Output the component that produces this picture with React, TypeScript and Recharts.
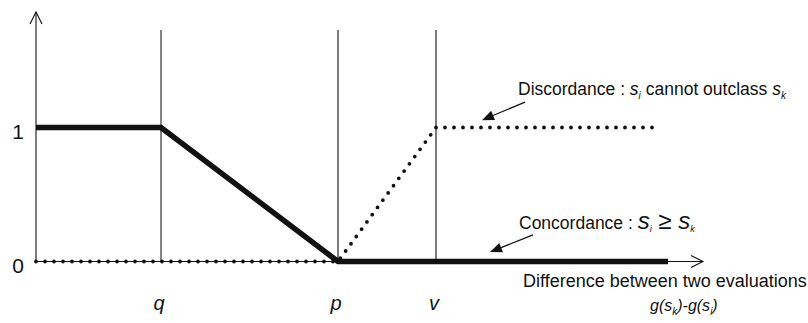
import React from 'react';
import { ComposedChart, Line, XAxis, YAxis, ReferenceLine, Customized } from 'recharts';

// Threshold positions on the difference axis
const thresholdNames = ['q', 'p', 'v'];
const thresholdValues = [1.25, 3.02, 4.0];

// Concordance index (bold line)
const concordanceX = [0, 1.25, 3.02, 6.32];
const concordanceY = [1, 1, 0, 0];

// Discordance index (dotted line)
const discordanceX = [0, 3.02, 4.0, 6.22];
const discordanceY = [0, 0, 1, 1];

// Y axis ticks
const yTickValues = [0, 1];
const yTickLabels = ['0', '1'];

const X_MAX = 6.67;
const Y_MAX = 1.862;
const V_TOP = 1.728;

const concordanceData = concordanceX.map((x, i) => ({ x, c: concordanceY[i] }));
const discordanceData = discordanceX.map((x, i) => ({ x, d: discordanceY[i] }));

const FONT = '"Liberation Sans", Arial, sans-serif';

const OpenArrow = (props: any) => {
  const { x1, y1, x2, y2 } = props;
  const a = Math.atan2(y2 - y1, x2 - x1);
  const L = 12, W = 6;
  const c = Math.cos(a), s = Math.sin(a);
  const bx = x2 - L * c, by = y2 - L * s;
  const px = -s * W, py = c * W;
  return (
    <g>
      <line x1={x1} y1={y1} x2={x2} y2={y2} stroke="#111" strokeWidth={1.1} />
      <polyline points={`${bx + px},${by + py} ${x2},${y2} ${bx - px},${by - py}`} fill="none" stroke="#111" strokeWidth={1.1} />
    </g>
  );
};

const FilledArrow = (props: any) => {
  const { x1, y1, x2, y2 } = props;
  const a = Math.atan2(y2 - y1, x2 - x1);
  const L = 12, W = 5;
  const c = Math.cos(a), s = Math.sin(a);
  const bx = x2 - L * c, by = y2 - L * s;
  const px = -s * W, py = c * W;
  return (
    <g>
      <line x1={x1} y1={y1} x2={bx} y2={by} stroke="#111" strokeWidth={1.3} />
      <polygon points={`${bx + px},${by + py} ${x2},${y2} ${bx - px},${by - py}`} fill="#111" />
    </g>
  );
};

const XTick = (props: any) => {
  const { x, y, payload } = props;
  const idx = thresholdValues.indexOf(payload.value);
  return (
    <text x={x - 2} y={y + 48.5} textAnchor="middle" fontFamily={FONT} fontStyle="italic" fontSize={20} fill="#111">
      {thresholdNames[idx]}
    </text>
  );
};

const YTick = (props: any) => {
  const { x, y, payload } = props;
  const idx = yTickValues.indexOf(payload.value);
  return (
    <text x={x - 18} y={y + 11.5} textAnchor="middle" fontFamily={FONT} fontSize={21} fill="#111">
      {yTickLabels[idx]}
    </text>
  );
};

const Annotations = () => (
  <g fontFamily={FONT} fill="#111">
    <text x={518} y={95} fontSize={17.5}>
      {'Discordance : '}
      <tspan fontStyle="italic">s</tspan>
      <tspan fontStyle="italic" fontSize={10} dy={4}>i</tspan>
      <tspan dy={-4}>{' cannot outclass '}</tspan>
      <tspan fontStyle="italic">s</tspan>
      <tspan fontStyle="italic" fontSize={10} dy={4}>k</tspan>
    </text>
    <text x={519} y={229} fontSize={17.5}>
      {'Concordance : '}
      <tspan fontSize={24} fontStyle="italic">s</tspan>
      <tspan fontSize={9} fontStyle="italic" dy={3}>i</tspan>
      <tspan fontSize={24} dy={-3}>{' ≥ '}</tspan>
      <tspan fontSize={24} fontStyle="italic">s</tspan>
      <tspan fontSize={9} fontStyle="italic" dy={3}>k</tspan>
    </text>
    <text x={523} y={287} fontSize={18}>Difference between two evaluations</text>
    <text x={650} y={311} fontSize={16} fontStyle="italic">
      {'g(s'}
      <tspan fontSize={10} dy={4}>k</tspan>
      <tspan dy={-4}>{')-g(s'}</tspan>
      <tspan fontSize={10} dy={4}>i</tspan>
      <tspan dy={-4}>{')'}</tspan>
    </text>
  </g>
);

export default function App() {
  return (
    <div style={{ position: 'absolute', left: 0, top: 0, background: '#fff' }}>
      <ComposedChart
        width={808}
        height={323}
        margin={{ top: 12, right: 105, bottom: 21.5, left: 0 }}
      >
        <XAxis
          type="number"
          dataKey="x"
          domain={[0, X_MAX]}
          ticks={thresholdValues}
          tick={<XTick />}
          axisLine={false}
          tickLine={false}
          tickSize={0}
          tickMargin={0}
          height={40}
        />
        <YAxis
          type="number"
          domain={[0, Y_MAX]}
          ticks={yTickValues}
          tick={<YTick />}
          axisLine={false}
          tickLine={false}
          tickSize={0}
          tickMargin={0}
          width={36}
        />
        {thresholdValues.map((v, i) => (
          <ReferenceLine
            key={thresholdNames[i]}
            segment={[{ x: v, y: 0 }, { x: v, y: V_TOP }]}
            stroke={i === 0 ? '#666' : '#222'}
            strokeWidth={i === 0 ? 1.6 : 1.2}
            ifOverflow="visible"
          />
        ))}
        <ReferenceLine segment={[{ x: 0, y: 0 }, { x: X_MAX, y: 0 }]} shape={<OpenArrow />} ifOverflow="visible" />
        <ReferenceLine segment={[{ x: 0, y: 0 }, { x: 0, y: Y_MAX }]} shape={<OpenArrow />} ifOverflow="visible" />
        <Line
          data={concordanceData}
          dataKey="c"
          type="linear"
          stroke="#111"
          strokeWidth={5.5}
          strokeLinecap="butt"
          strokeLinejoin="miter"
          dot={false}
          activeDot={false}
          isAnimationActive={false}
        />
        <Line
          data={discordanceData}
          dataKey="d"
          type="linear"
          stroke="#111"
          strokeWidth={3.8}
          strokeDasharray="0 9"
          strokeLinecap="round"
          dot={false}
          activeDot={false}
          isAnimationActive={false}
        />
        <ReferenceLine segment={[{ x: 4.89, y: 1.19 }, { x: 4.46, y: 1.055 }]} shape={<FilledArrow />} ifOverflow="visible" />
        <ReferenceLine segment={[{ x: 4.97, y: 0.198 }, { x: 4.54, y: 0.071 }]} shape={<FilledArrow />} ifOverflow="visible" />
        <Customized component={Annotations} />
      </ComposedChart>
    </div>
  );
}
